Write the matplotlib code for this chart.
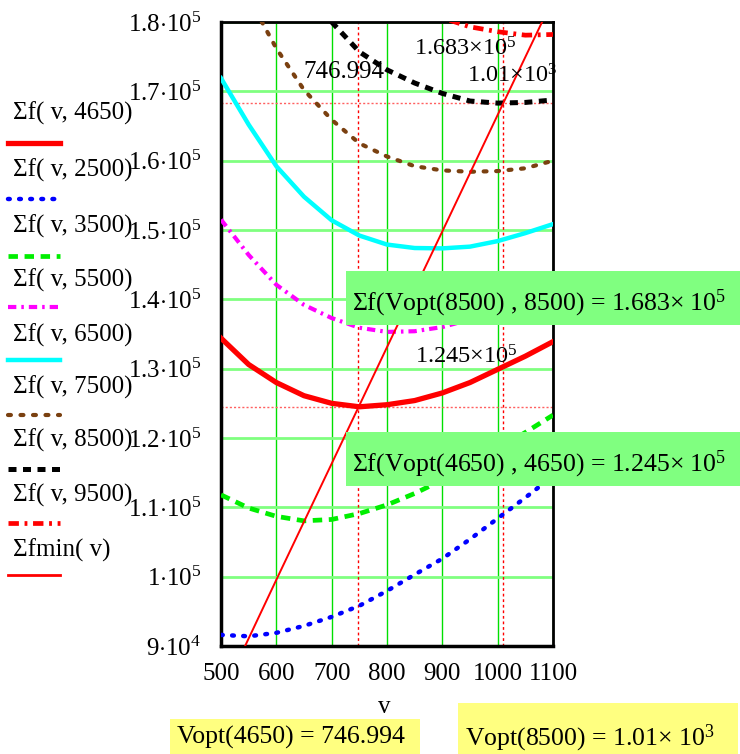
import matplotlib.pyplot as plt
from matplotlib.lines import Line2D
from matplotlib.patches import Rectangle

plt.rcParams['font.family'] = ['Liberation Serif', 'DejaVu Serif']
plt.rcParams['mathtext.fontset'] = 'custom'
plt.rcParams['mathtext.rm'] = 'Liberation Serif'
plt.rcParams['mathtext.it'] = 'Liberation Serif:italic'

# dados
v = [500, 550, 600, 650, 700, 750, 800, 850, 900, 950, 1000, 1050, 1100]
f4650 = [134400, 130600, 128000, 126100, 125000, 124500, 124800, 125400, 126500, 128000, 129900, 131800, 133900]
f2500 = [91600, 91400, 91900, 92900, 94200, 95800, 97950, 100300, 102600, 105400, 108400, 111400, 114500]
f3500 = [111800, 109900, 108700, 108050, 108250, 109100, 110350, 112000, 113950, 116100, 118400, 120800, 123300]
f5500 = [151500, 146400, 142100, 139200, 137300, 135900, 135300, 135400, 136000, 137100, 138600, 140400, 142500]
f6500 = [171900, 165200, 159200, 154800, 151400, 149200, 147900, 147400, 147350, 147600, 148400, 149550, 150850]
f7500 = [193000, 183500, 176200, 170200, 165900, 162500, 160600, 159200, 158600, 158400, 158500, 158900, 160000]
f8500 = [206000, 198000, 191000, 185000, 180000, 175700, 173100, 171200, 169700, 168600, 168300, 168400, 168750]
f9500 = [219000, 210500, 203500, 197500, 192500, 188500, 185000, 182500, 180600, 179300, 178600, 178100, 178200]

v_min = [540, 600, 700, 800, 900, 1000, 1100]
fmin = [89400, 99550, 116300, 133100, 149800, 166600, 183300]

vopt = [746.994, 1010]
fopt = [124500, 168300]

xticks = [500, 600, 700, 800, 900, 1000, 1100]
yticks = [90000, 100000, 110000, 120000, 130000, 140000, 150000, 160000, 170000, 180000]
ylabels = ['9', '1', '1.1', '1.2', '1.3', '1.4', '1.5', '1.6', '1.7', '1.8']
yexp = ['4', '5', '5', '5', '5', '5', '5', '5', '5', '5']

legend_labels = ['Σf( v, 4650)', 'Σf( v, 2500)', 'Σf( v, 3500)', 'Σf( v, 5500)', 'Σf( v, 6500)',
                 'Σf( v, 7500)', 'Σf( v, 8500)', 'Σf( v, 9500)', 'Σfmin( v)']

W, H = 740, 754
fig = plt.figure(figsize=(W / 100, H / 100), dpi=100)
ax = fig.add_axes([221 / W, 1 - 646 / H, (553 - 221) / W, (646 - 22) / H])


def fx(px):
    return px / W


def fy(py):
    return 1 - py / H


brown = '#7a4010'
estilos = [
    dict(color='red', lw=3.8, ls='-'),
    dict(color='blue', lw=3.2, ls=(0, (0.4, 2.1)), dash_capstyle='round'),
    dict(color='#00ee00', lw=3.4, ls=(0, (2.0, 1.4))),
    dict(color='magenta', lw=3.0, ls=(0, (2.0, 1.2, 0.6, 1.2))),
    dict(color='cyan', lw=3.2, ls='-'),
    dict(color=brown, lw=3.0, ls=(0, (0.7, 2.3)), dash_capstyle='round'),
    dict(color='black', lw=3.6, ls=(0, (1.6, 1.3))),
    dict(color='red', lw=3.4, ls=(0, (2.2, 1.2, 0.6, 1.2))),
    dict(color='red', lw=1.4, ls='-'),
]

series = [f4650, f2500, f3500, f5500, f6500, f7500, f8500, f9500]
for ys, st in zip(series, estilos[:8]):
    ax.plot(v, ys, **st, zorder=3)
ax.plot(v_min, fmin, **estilos[8], zorder=4)

# marcadores
for xv in vopt:
    ax.axvline(xv, color='red', lw=1, ls=(0, (2, 2)), zorder=2)
for yv in fopt:
    ax.axhline(yv, color='#ff6060', lw=1, ls=(0, (1.5, 1.5)), zorder=2)

ax.set_xlim(500, 1100)
ax.set_ylim(90000, 180000)
ax.set_xticks(xticks)
ax.set_xticklabels([str(t) for t in xticks])
ax.set_yticks(yticks)
ax.set_yticklabels([r'%s$\cdot$10$^{%s}$' % (a, b) for a, b in zip(ylabels, yexp)])
ax.tick_params(length=0, labelsize=18)
ax.tick_params(axis='x', pad=12)
ax.tick_params(axis='y', pad=14)
ax.xaxis.grid(True, color='#00e000', lw=1)
ax.yaxis.grid(True, color='#80ff80', lw=2)
ax.set_axisbelow(True)
for s in ax.spines.values():
    s.set_linewidth(2)
ax.spines['left'].set_linewidth(2.5)
ax.spines['bottom'].set_linewidth(2.5)

fig.text(fx(384), fy(707), 'v', fontsize=18, ha='center', va='center')

# legenda
text_y = [113, 170, 226, 280, 335, 387, 440, 495, 550]
line_y = [143, 199, 256, 307, 360, 415, 469, 523, 575]
for lab, st, ty, ly in zip(legend_labels, estilos, text_y, line_y):
    fig.text(fx(13), fy(ty), lab, fontsize=18, ha='left', va='center')
    kw = dict(st)
    if kw['lw'] < 2:
        kw['lw'] = 2
    fig.add_artist(Line2D([fx(8), fx(60)], [fy(ly), fy(ly)], transform=fig.transFigure, **kw))

# rótulos dos marcadores
fig.text(fx(344), fy(72), '746.994', fontsize=18, ha='center', va='center')
fig.text(fx(517), fy(49), r'1.683$\times$10$^{5}$', fontsize=17.5, ha='right', va='center')
fig.text(fx(557), fy(76), r'1.01$\times$10$^{3}$', fontsize=17.5, ha='right', va='center')
fig.text(fx(518), fy(357), r'1.245$\times$10$^{5}$', fontsize=17.5, ha='right', va='center')

# caixas verdes
for top, txt in [(271, r'Σf(Vopt(8500) , 8500) = 1.683$\times$ 10$^{5}$'),
                 (432, r'Σf(Vopt(4650) , 4650) = 1.245$\times$ 10$^{5}$')]:
    fig.add_artist(Rectangle((fx(346), fy(top + 54)), fx(740 - 346), 54 / H,
                             transform=fig.transFigure, fc='#80ff80', ec='none'))
    fig.text(fx(352), fy(top + 32), txt, fontsize=18.5, ha='left', va='center')

# caixas amarelas
fig.add_artist(Rectangle((fx(170), 0), fx(250), 35 / H, transform=fig.transFigure, fc='#ffff80', ec='none'))
fig.text(fx(177), fy(737), 'Vopt(4650) = 746.994', fontsize=18.5, ha='left', va='center')
fig.add_artist(Rectangle((fx(458), 0), fx(280), 51 / H, transform=fig.transFigure, fc='#ffff80', ec='none'))
fig.text(fx(465), fy(738), r'Vopt(8500) = 1.01$\times$ 10$^{3}$', fontsize=18.5, ha='left', va='center')

fig.savefig('out.png', dpi=100)
